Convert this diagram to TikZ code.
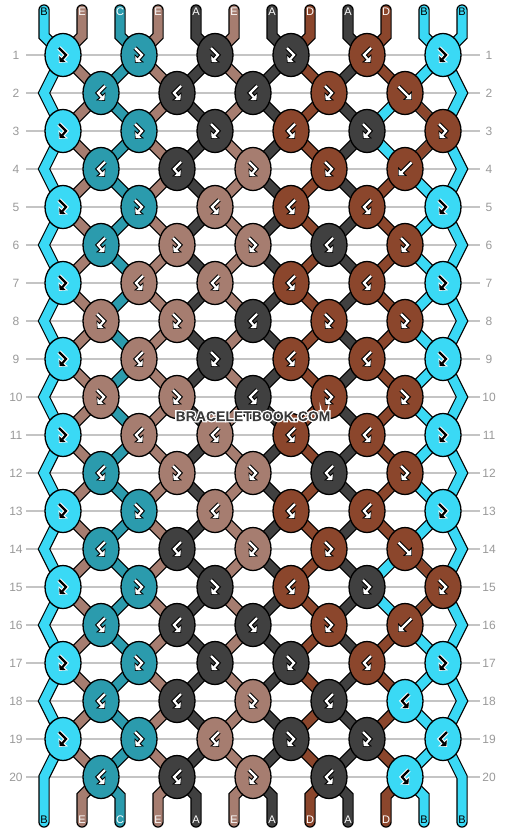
\documentclass[tikz,border=0pt]{standalone}
\usepackage{fontspec}
\setmainfont{Liberation Sans}
\usetikzlibrary{arrows.meta,shapes.geometric}
\definecolor{cA}{HTML}{404040}
\definecolor{cB}{HTML}{3AD9F5}
\definecolor{cC}{HTML}{2B9BAD}
\definecolor{cD}{HTML}{8B462C}
\definecolor{cE}{HTML}{A67D70}
\definecolor{gridgray}{HTML}{C4C4C4}
\definecolor{labgray}{HTML}{9A9A9A}
\definecolor{wmgray}{HTML}{3A3A3A}

\tikzset{
 strout/.style={line width=11.4pt, draw=black, line cap=round, line join=miter},
 strin/.style={line width=9pt, draw=#1, line cap=round, line join=miter},
 knot/.style={ellipse, draw=black, line width=1.3pt, minimum width=36pt, minimum height=43pt, inner sep=0pt},
 rowline/.style={draw=gridgray, line width=1.5pt},
 rowlab/.style={text=labgray, font=\fontsize{12}{12}\selectfont, inner sep=0pt},
 endlab/.style={font=\fontsize{11}{11}\selectfont, inner sep=0pt},
}

\newcommand\drawglyph[1]{%
  \draw[line width=4.4pt, draw=\gout, line join=miter, -{Triangle[length=6.4pt,width=12pt]}] #1;
  \draw[line width=2.2pt, draw=\gin, line join=miter, shorten >=1pt, -{Triangle[length=4.2pt,width=8.4pt]}] #1;}
\newcommand\glyphfb{\drawglyph{(-4,-7) -- (3,0) -- (-4,8)}}
\newcommand\glyphbf{\drawglyph{(4,-7) -- (-3,0) -- (4,8)}}
\newcommand\glyphf{\drawglyph{(-6.5,-6.5) -- (7,7)}}
\newcommand\glyphb{\drawglyph{(6.5,-6.5) -- (-7,7)}}

\begin{document}
\begin{tikzpicture}[x=1pt,y=-1pt]
\useasboundingbox (0,0) rectangle (506,832);
\fill[white] (0,0) rectangle (506,832);

% row lines and labels
\foreach \r in {1,...,20}{
  \pgfmathsetmacro\y{55+38*(\r-1)}
  \draw[rowline] (26,\y) -- (480,\y);
  \node[rowlab] (L\r) at (16,\y) {\r};
  \node[rowlab] (R\r) at (489,\y) {\r};
}

% string positions
\foreach \r in {1,...,20}{
 \foreach \i in {0,...,11}{
  \pgfmathsetmacro\y{55+38*(\r-1)}
  \pgfmathsetmacro\x{ifthenelse(mod(\r,2)==1, 63+76*floor(\i/2), ifthenelse(\i==0, 44, ifthenelse(\i==11, 462, 101+76*floor((\i-1)/2))))}
  \coordinate (p-\i-\r) at (\x,\y);
 }}
\foreach \i in {0,...,11}{
  \pgfmathsetmacro\xs{44+38*\i}
  \pgfmathsetmacro\yb{ifthenelse(\i==0 || \i==11, 800, 796)}
  \coordinate (s-\i) at (\xs,10);
  \coordinate (sv-\i) at (\xs,36);
  \coordinate (bv-\i) at (\xs,\yb);
  \coordinate (e-\i) at (\xs,822);
}

% strings
\foreach \i in {0,...,11}{
  \draw[strout] (s-\i) -- (sv-\i) \foreach \r in {1,...,20}{ -- (p-\i-\r)} -- (bv-\i) -- (e-\i);
}
\foreach \i/\col in {0/B,1/E,2/C,3/E,4/A,5/E,6/A,7/D,8/A,9/D,10/B,11/B}{
  \draw[strin=c\col] (s-\i) -- (sv-\i) \foreach \r in {1,...,20}{ -- (p-\i-\r)} -- (bv-\i) -- (e-\i);
}
\draw[strin=cB] (p-9-2) -- (p-9-3) -- (p-9-4);
\draw[strin=cB] (p-9-14) -- (p-9-15) -- (p-9-16);
\draw[strin=cD] (p-10-2) -- (p-10-3) -- (p-10-4);
\draw[strin=cD] (p-10-14) -- (p-10-15) -- (p-10-16);

% end labels
\foreach \L [count=\i from 0] in {B,E,C,E,A,E,A,D,A,D,B,B}{
  \pgfmathsetmacro\xs{44+38*\i}
  \if B\L \def\lc{black}\else\def\lc{white}\fi
  \node[endlab, text=\lc] (top-\i) at (\xs,12) {\L};
  \node[endlab, text=\lc] (bot-\i) at (\xs,820) {\L};
}

% knots
\foreach \r/\lst in {
1/{fb/B,fb/C,fb/A,fb/A,bf/D,fb/B},
2/{bf/C,bf/A,bf/A,fb/D,f/D},
3/{fb/B,fb/C,fb/A,bf/D,fb/A,fb/D},
4/{bf/C,bf/A,fb/E,fb/D,b/D},
5/{fb/B,fb/C,bf/E,bf/D,bf/D,fb/B},
6/{bf/C,fb/E,fb/E,bf/A,fb/D},
7/{fb/B,bf/E,bf/E,bf/D,bf/D,fb/B},
8/{fb/E,fb/E,bf/A,fb/D,fb/D},
9/{fb/B,bf/E,fb/A,bf/D,bf/D,fb/B},
10/{fb/E,fb/E,bf/A,fb/D,fb/D},
11/{fb/B,bf/E,bf/E,bf/D,bf/D,fb/B},
12/{bf/C,fb/E,fb/E,bf/A,fb/D},
13/{fb/B,fb/C,bf/E,bf/D,bf/D,fb/B},
14/{bf/C,bf/A,fb/E,fb/D,f/D},
15/{fb/B,fb/C,fb/A,bf/D,fb/A,fb/D},
16/{bf/C,bf/A,bf/A,fb/D,b/D},
17/{fb/B,fb/C,fb/A,fb/A,bf/D,fb/B},
18/{bf/C,bf/A,fb/E,bf/A,bf/B},
19/{fb/B,fb/C,bf/E,fb/A,fb/A,bf/B},
20/{bf/C,bf/A,fb/E,bf/A,bf/B}}{
  \pgfmathsetmacro\y{55+38*(\r-1)}
  \pgfmathsetmacro\xo{ifthenelse(mod(\r,2)==1,63,101)}
  \foreach \kt/\kc [count=\k from 0] in \lst {
    \pgfmathsetmacro\x{\xo+76*\k}
    \node[knot, fill=c\kc] (k-\r-\k) at (\x,\y) {};
    \if B\kc \def\gin{black}\def\gout{white}\else\def\gin{white}\def\gout{black}\fi
    \begin{scope}[shift={(k-\r-\k.center)}]
      \csname glyph\kt\endcsname
    \end{scope}
  }
}

% watermark: white halo via stroke+clip text mode, then dark fill clipped to the glyphs
\node[font=\bfseries\fontsize{14}{14}\selectfont, text=wmgray, inner sep=0pt] (wm) at (253,415)
  {\special{pdf:literal direct q 1 1 1 RG 2.6 w 5 Tr}BRACELETBOOK.COM\special{pdf:literal direct 0 Tr}\llap{\rule[-2pt]{170pt}{16pt}}\special{pdf:literal direct Q}};
\end{tikzpicture}
\end{document}
